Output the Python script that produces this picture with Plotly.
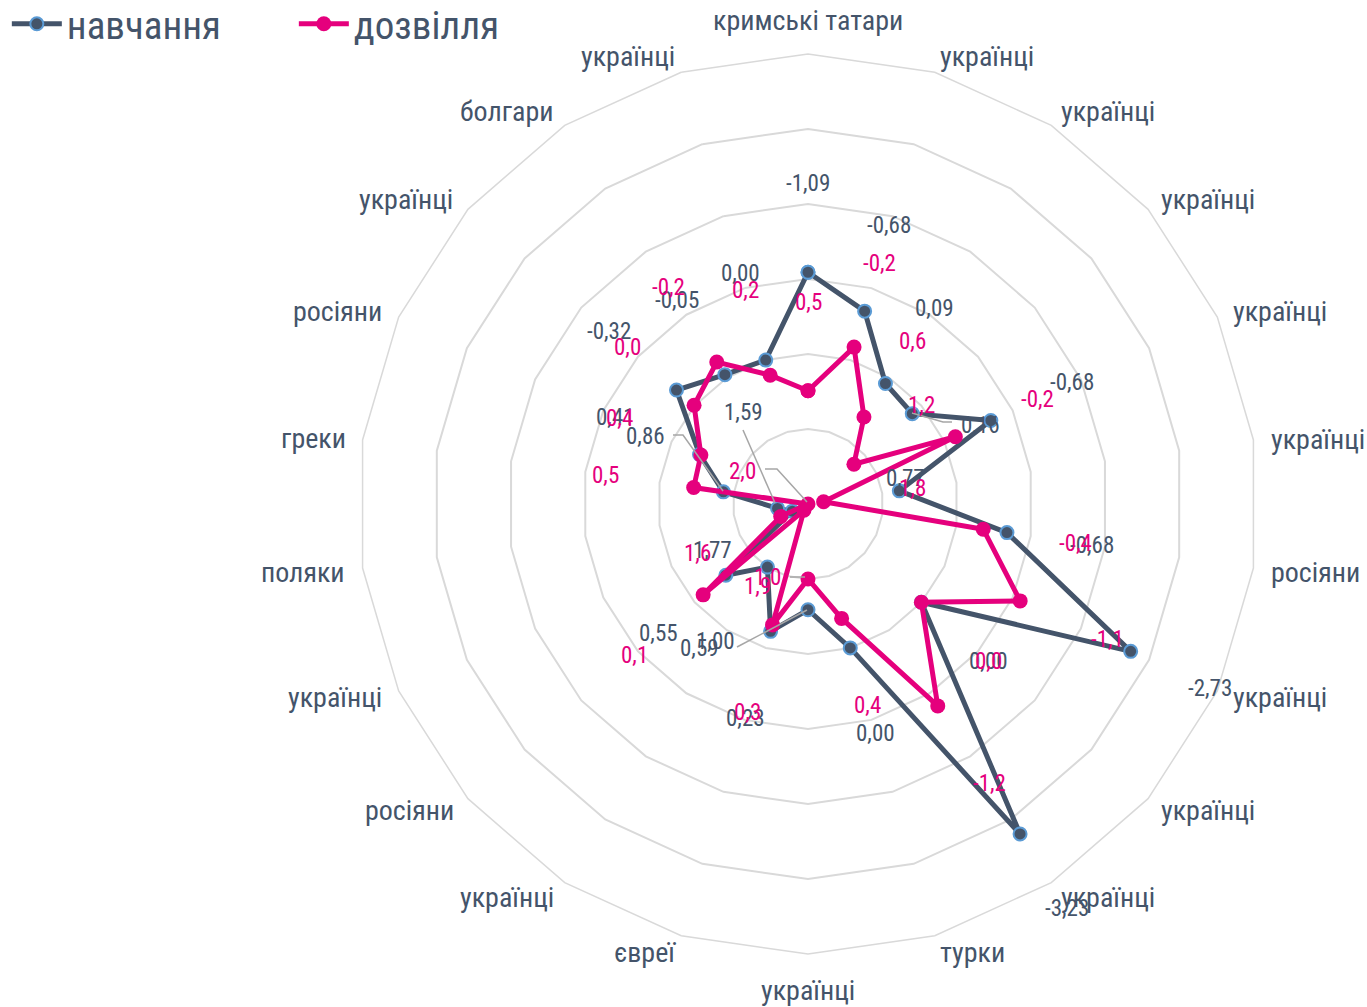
import plotly.graph_objects as go

W, H = 1367, 1007

# categories clockwise from the top
categories = ["кримські татари", "українці", "українці", "українці", "українці",
              "українці", "росіяни", "українці", "українці", "українці", "турки",
              "українці", "євреї", "українці", "росіяни", "українці", "поляки",
              "греки", "росіяни", "українці", "болгари", "українці"]

navchannia = [-1.09, -0.68, 0.09, 0.16, -0.68, 0.77, -0.68, -2.73, 0.00, -3.23, 0.00,
              0.59, 0.23, 1.00, 0.55, 1.77, 1.59, 0.86, 0.41, -0.32, -0.05, 0.00]

dozvillia = [0.49, -0.18, 0.62, 1.19, -0.16, 1.79, -0.36, -1.11, 0.00, -1.20, 0.41,
             1.00, 0.32, 1.90, 0.15, 1.60, 2.00, 0.46, 0.43, -0.01, -0.25, 0.21]

# data labels as they sit in the original (text only)
navy_text = ["-1,09", "-0,68", "0,09", "0,16", "-0,68", "0,77", "-0,68", "-2,73",
             "0,00", "-3,23", "0,00", "0,59", "0,23", "1,00", "0,55", "1,77",
             "1,59", "0,86", "0,41", "-0,32", "-0,05", "0,00"]
pink_text = ["0,5", "-0,2", "0,6", "1,2", "-0,2", "1,8", "-0,4", "-1,1", "0,0", "-1,2",
             "0,4", "1,0", "0,3", "1,9", "0,1", "1,6", "2,0", "0,5", "0,4", "0,0",
             "-0,2", "0,2"]

# label placement in pixels (x, y), text centre
navy_xy = [(808, 183), (889, 225), (934, 308), (980, 425), (1072, 383), (905, 479),
           (1092, 545), (1210, 688), (988, 661), (1067, 908), (875, 733), (700, 648),
           (745, 718), (715, 641), (658, 633), (712, 550), (743, 412), (645, 436),
           (615, 417), (609, 331), (677, 300), (740, 273)]
pink_xy = [(808, 302), (879, 263), (912, 341), (921, 405), (1037, 400), (912, 488),
           (1075, 543), (1107, 639), (988, 661), (989, 783), (867, 705), (767, 577),
           (747, 712), (757, 586), (634, 655), (697, 553), (742, 471), (605, 475),
           (619, 418), (627, 347), (668, 288), (745, 290)]
# category name placement (Excel puts them a bit differently from plotly)
cat_xy = [(808, 20), (987, 57), (1108, 112), (1208, 199), (1280, 311), (1318, 440),
          (1315, 572), (1280, 697), (1208, 810), (1108, 897), (972, 952), (808, 990),
          (645, 952), (507, 897), (409, 810), (335, 697), (303, 572), (313, 438),
          (337, 311), (406, 199), (507, 112), (628, 57)]

# leader lines (pixels)
leaders = [[(743, 430), (775, 503)],
           [(765, 469), (777, 469), (807, 502)],
           [(673, 435), (683, 435), (723, 491)],
           [(737, 647), (807, 610)],
           [(790, 577), (805, 577)],
           [(912, 413), (943, 422), (952, 422)]]

NAVY = "#44546a"
PINK = "#e5007d"
FONT = "Liberation Sans Narrow, Arial Narrow, Roboto Condensed, Liberation Sans, sans-serif"

# unique keys so repeated names keep their own spoke
keys = [f"{name}#{i}" for i, name in enumerate(categories)]


def closed(values):
    return values + values[:1]


fig = go.Figure()
fig.add_trace(go.Scatterpolar(r=closed(navchannia), theta=closed(keys), name="навчання",
                              mode="lines+markers", cliponaxis=True,
                              line=dict(color=NAVY, width=5),
                              marker=dict(size=13, color=NAVY,
                                          line=dict(color="#5b9bd5", width=2))))
fig.add_trace(go.Scatterpolar(r=closed(dozvillia), theta=closed(keys), name="дозвілля",
                              mode="lines+markers", cliponaxis=True,
                              line=dict(color=PINK, width=5),
                              marker=dict(size=15, color=PINK)))


def px(x, y):
    return x / W, 1 - y / H


annotations = []
for txt, (x, y) in zip(categories, cat_xy):
    ax, ay = px(x, y)
    annotations.append(dict(x=ax, y=ay, xref="paper", yref="paper", text=txt,
                            xanchor="center", yanchor="middle", showarrow=False,
                            font=dict(size=28, color=NAVY, family=FONT)))
for texts, spots, colour in ((navy_text, navy_xy, NAVY), (pink_text, pink_xy, PINK)):
    for txt, (x, y) in zip(texts, spots):
        ax, ay = px(x, y)
        annotations.append(dict(x=ax, y=ay, xref="paper", yref="paper", text=txt,
                                xanchor="center", yanchor="middle", showarrow=False,
                                font=dict(size=23, color=colour, family=FONT)))

shapes = []
for pts in leaders:
    path = "M " + " L ".join(f"{x / W:.5f},{1 - y / H:.5f}" for x, y in pts)
    shapes.append(dict(type="path", path=path, xref="paper", yref="paper",
                       line=dict(color="#a6a6a6", width=1.5)))

cx, cy, R = 808, 504, 450
fig.update_layout(
    width=W, height=H,
    margin=dict(l=0, r=0, t=0, b=0, autoexpand=False),
    paper_bgcolor="white",
    font=dict(family=FONT, color=NAVY),
    showlegend=True,
    legend=dict(orientation="h", x=0.005, y=1.008, xanchor="left", yanchor="top",
                font=dict(size=39, color=NAVY, family=FONT), itemwidth=50,
                entrywidth=222, bgcolor="rgba(0,0,0,0)"),
    polar=dict(
        domain=dict(x=[(cx - R) / W, (cx + R) / W], y=[1 - (cy + R) / H, 1 - (cy - R) / H]),
        bgcolor="white",
        gridshape="linear",
        radialaxis=dict(range=[2, -4], tick0=0, dtick=1, showticklabels=False, ticks="",
                        showline=False, gridcolor="#d9d9d9", gridwidth=1.5),
        angularaxis=dict(type="category", categoryorder="array", categoryarray=keys,
                         rotation=90, direction="clockwise", showticklabels=False,
                         showgrid=False, showline=True, ticks="",
                         linecolor="#d9d9d9", linewidth=1.5),
    ),
    annotations=annotations,
    shapes=shapes,
)

fig.write_html("out.html", config={"displayModeBar": False},
               post_script="document.body.style.margin='0px';")
